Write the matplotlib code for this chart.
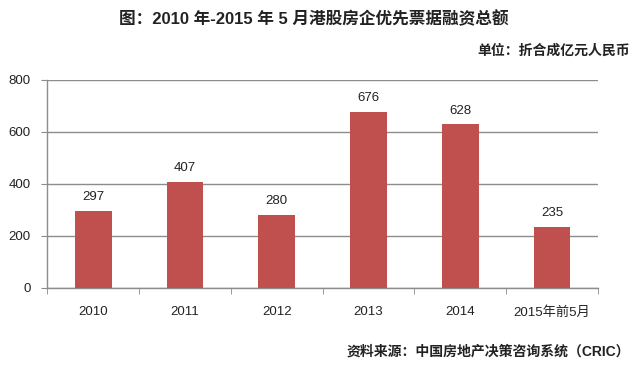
import matplotlib.pyplot as plt
import numpy as np

plt.rcParams['font.family'] = ['Liberation Sans', 'Noto Sans CJK SC']

years = ['2010', '2011', '2012', '2013', '2014', '2015年前5月']
amounts = [297, 407, 280, 676, 628, 235]
yticks = [0, 200, 400, 600, 800]

bar_color = '#C0504D'
grid_color = '#8C8C8C'

fig = plt.figure(figsize=(6.4, 3.72), dpi=100)
ax = fig.add_axes([0.074, 0.226, 0.86, 0.56])

x = np.arange(len(years))
bars = ax.bar(x, amounts, width=0.4, color=bar_color, zorder=3)
for xi, v in zip(x, amounts):
    ax.text(xi, v + 30, str(v), ha='center', va='bottom', fontsize=9.5, color='#222222')

ax.set_xlim(-0.5, len(years) - 0.5)
ax.set_ylim(0, 800)
ax.set_yticks(yticks)
ax.set_yticklabels([str(t) for t in yticks], fontsize=9.5, color='#222222')
ax.yaxis.grid(True, color=grid_color, linewidth=1.0, zorder=0)

# category labels at centres, tick marks at the boundaries
ax.set_xticks(x)
ax.set_xticklabels(years, fontsize=9.5, color='#222222')
ax.tick_params(axis='x', which='major', length=0, pad=13)
ax.set_xticks(np.arange(-0.5, len(years)), minor=True)
ax.tick_params(axis='x', which='minor', length=4, color=grid_color, direction='out')
ax.tick_params(axis='y', length=4, color=grid_color, pad=8)

for s in ['top', 'right']:
    ax.spines[s].set_visible(False)
for s in ['left', 'bottom']:
    ax.spines[s].set_color(grid_color)
    ax.spines[s].set_linewidth(1.0)

fig.text(0.49, 0.95, '图：2010 年-2015 年 5 月港股房企优先票据融资总额',
         ha='center', va='center', fontsize=12, fontweight='bold', color='#222222')
fig.text(0.985, 0.865, '单位：折合成亿元人民币', ha='right', va='center',
         fontsize=10, fontweight='bold', color='#222222')
fig.text(0.985, 0.055, '资料来源：中国房地产决策咨询系统（CRIC）', ha='right', va='center',
         fontsize=10, fontweight='bold', color='#222222')

plt.savefig('out.png', dpi=100)
